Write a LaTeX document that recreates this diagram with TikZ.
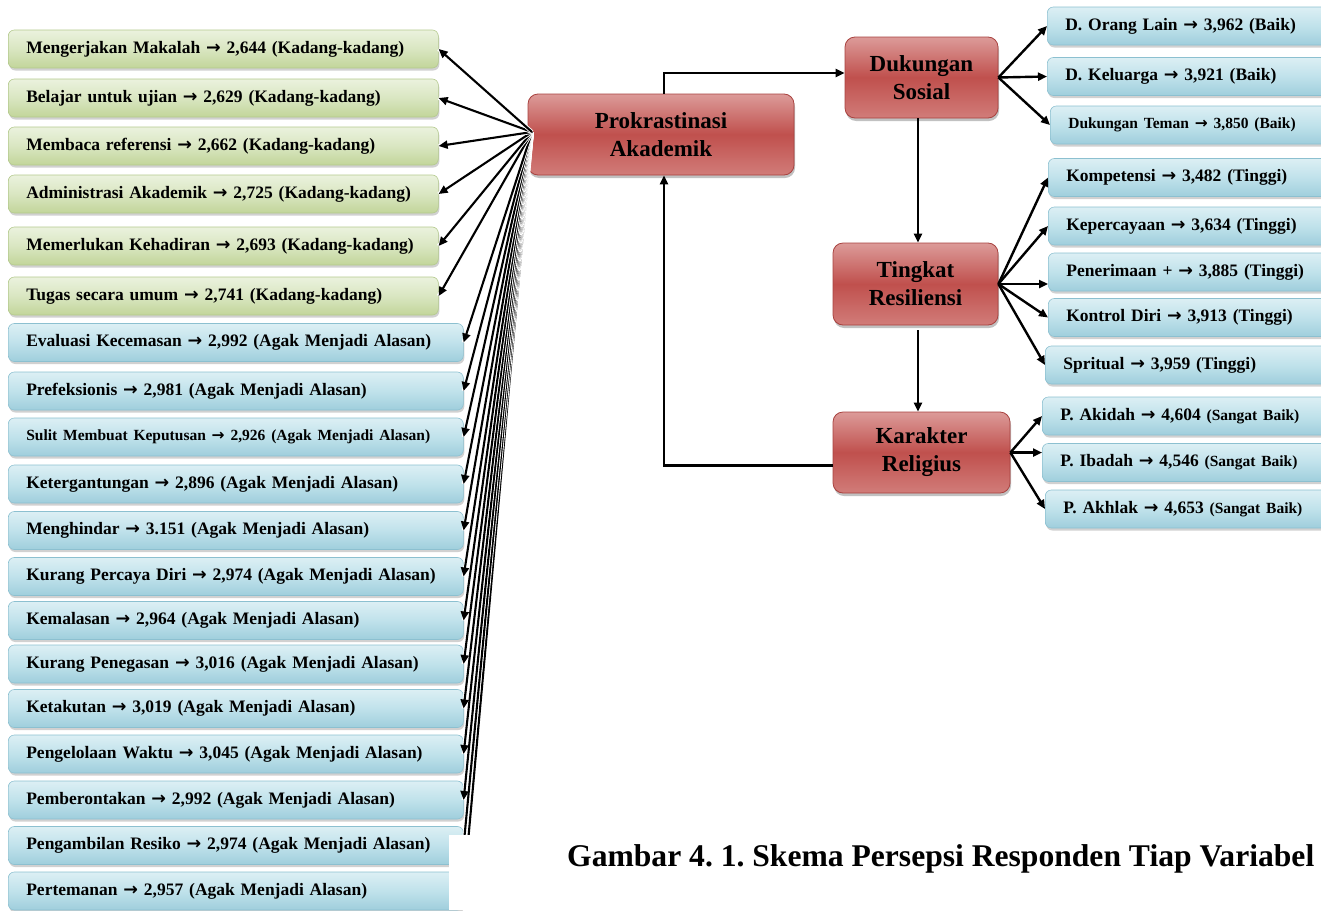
\documentclass[tikz,border=0pt]{standalone}
\usepackage{fontspec}
\setmainfont{Liberation Serif}
\newfontfamily\arrowfont{DejaVu Sans}
\frenchspacing
\usetikzlibrary{arrows.meta,shadows,calc}
\definecolor{gtop}{HTML}{EBF2DE}
\definecolor{gmid}{HTML}{D9E6C1}
\definecolor{gbot}{HTML}{C2D59A}
\definecolor{gborder}{HTML}{B3C98C}
\definecolor{btop}{HTML}{DCEFF4}
\definecolor{bmid}{HTML}{C0E2EB}
\definecolor{bbot}{HTML}{9FCEDC}
\definecolor{bborder}{HTML}{8CC0D0}
\definecolor{rtop}{HTML}{DC9B99}
\definecolor{rmid}{HTML}{C0504D}
\definecolor{rbot}{HTML}{D17C79}
\definecolor{rborder}{HTML}{A8423F}
\newcommand{\sm}{\fontsize{15.5}{18}\selectfont}
\newcommand{\ar}{{\arrowfont\bfseries →}}
\begin{document}
\begin{tikzpicture}[x=1pt,y=-1pt,
  box/.style={rounded corners=6pt, minimum height=38pt, inner xsep=18pt, inner ysep=0pt,
    anchor=west, align=left, line width=.6pt,
    font=\bfseries\fontsize{17.5}{20}\selectfont,
    drop shadow={shadow xshift=1pt, shadow yshift=-2.5pt, fill=black!60, opacity=.3}},
  gbox/.style={box, text width=394pt, draw=gborder, top color=gtop, bottom color=gbot, middle color=gmid},
  bbox/.style={box, text width=419pt, draw=bborder, top color=btop, bottom color=bbot, middle color=bmid},
  rbox/.style={box, text width=280pt, draw=bborder, top color=btop, bottom color=bbot, middle color=bmid},
  redn/.style={rounded corners=10pt, draw=rborder, line width=.8pt, top color=rtop, bottom color=rbot,
    middle color=rmid, align=center, inner sep=0pt,
    font=\bfseries\fontsize{23}{28}\selectfont,
    drop shadow={shadow xshift=1pt, shadow yshift=-3pt, fill=black!70, opacity=.35}},
  arr/.style={-{Triangle[length=9pt,width=8pt]}, line width=2.4pt},
  fanline/.style={arr, line width=2.1pt, preaction={draw=white, line width=3.9pt, -}}
]
\useasboundingbox (0,0) rectangle (1321,910);
\clip (0,0) rectangle (1321,910);

% central chain
\node[redn, minimum width=266pt, minimum height=81pt] (pk) at (661,134.5) {Prokrastinasi\\Akademik};
\node[redn, minimum width=153pt, minimum height=81pt] (ds) at (921.5,77.5) {Dukungan\\Sosial};
\node[redn, minimum width=165pt, minimum height=82pt] (tr) at (915.5,284) {Tingkat\\Resiliensi};
\node[redn, minimum width=177pt, minimum height=81pt] (kr) at (921.5,452.5) {Karakter\\Religius};

% left boxes
\node[gbox] (l1) at (8,49) {Mengerjakan Makalah \ar{} 2,644 (Kadang-kadang)};
\node[gbox] (l2) at (8,98) {Belajar untuk ujian \ar{} 2,629 (Kadang-kadang)};
\node[gbox] (l3) at (8,146) {Membaca referensi \ar{} 2,662 (Kadang-kadang)};
\node[gbox] (l4) at (8,194) {Administrasi Akademik \ar{} 2,725 (Kadang-kadang)};
\node[gbox] (l5) at (8,246) {Memerlukan Kehadiran \ar{} 2,693 (Kadang-kadang)};
\node[gbox] (l6) at (8,296) {Tugas secara umum \ar{} 2,741 (Kadang-kadang)};
\node[bbox] (l7) at (8,342.5) {Evaluasi Kecemasan \ar{} 2,992 (Agak Menjadi Alasan)};
\node[bbox] (l8) at (8,391) {Prefeksionis \ar{} 2,981 (Agak Menjadi Alasan)};
\node[bbox] (l9) at (8,437) {\sm Sulit Membuat Keputusan \ar{} 2,926 (Agak Menjadi Alasan)};
\node[bbox] (l10) at (8,484) {Ketergantungan \ar{} 2,896 (Agak Menjadi Alasan)};
\node[bbox] (l11) at (8,530.5) {Menghindar \ar{} 3.151 (Agak Menjadi Alasan)};
\node[bbox] (l12) at (8,576.5) {Kurang Percaya Diri \ar{} 2,974 (Agak Menjadi Alasan)};
\node[bbox] (l13) at (8,620.5) {Kemalasan \ar{} 2,964 (Agak Menjadi Alasan)};
\node[bbox] (l14) at (8,664) {Kurang Penegasan \ar{} 3,016 (Agak Menjadi Alasan)};
\node[bbox] (l15) at (8,708.5) {Ketakutan \ar{} 3,019 (Agak Menjadi Alasan)};
\node[bbox] (l16) at (8,754) {Pengelolaan Waktu \ar{} 3,045 (Agak Menjadi Alasan)};
\node[bbox] (l17) at (8,800) {Pemberontakan \ar{} 2,992 (Agak Menjadi Alasan)};
\node[bbox] (l18) at (8,845.5) {Pengambilan Resiko \ar{} 2,974 (Agak Menjadi Alasan)};
\node[bbox] (l19) at (8,891) {Pertemanan \ar{} 2,957 (Agak Menjadi Alasan)};

% right boxes
\node[rbox] (r1) at (1047,26) {D. Orang Lain \ar{} 3,962 (Baik)};
\node[rbox] (r2) at (1047,76.5) {D. Keluarga \ar{} 3,921 (Baik)};
\node[rbox] (r3) at (1050,125) {\sm Dukungan Teman \ar{} 3,850 (Baik)};
\node[rbox] (r4) at (1048,177.5) {Kompetensi \ar{} 3,482 (Tinggi)};
\node[rbox] (r5) at (1048,226) {Kepercayaan \ar{} 3,634 (Tinggi)};
\node[rbox] (r6) at (1048,272) {Penerimaan + \ar{} 3,885 (Tinggi)};
\node[rbox] (r7) at (1048,317.5) {Kontrol Diri \ar{} 3,913 (Tinggi)};
\node[rbox] (r8) at (1045,365) {Spritual \ar{} 3,959 (Tinggi)};
\node[rbox] (r9) at (1042,416) {P. Akidah \ar{} 4,604 {\sm(Sangat Baik)}};
\node[rbox] (r10) at (1042,462.5) {P. Ibadah \ar{} 4,546 {\sm(Sangat Baik)}};
\node[rbox] (r11) at (1045,509) {P. Akhlak \ar{} 4,653 {\sm(Sangat Baik)}};

% left fan
\coordinate (fan) at (532,132);
\foreach \i in {19,18,...,1} { \draw[fanline] (fan) -- (l\i.east); }

% chain connectors
\draw[arr] ([xshift=3pt]pk.north) |- ([yshift=4.5pt]ds.west);
\draw[arr] ([xshift=-3.5pt]ds.south) -- ([xshift=-3.5pt]ds.south |- tr.north);
\draw[arr] ([xshift=2.5pt,yshift=-5pt]tr.south) -- ([xshift=2.5pt]tr.south |- kr.north);
\draw[arr] ([yshift=-13pt]kr.west) -| ([xshift=3pt]pk.south);

% right fans
\draw[arr] (ds.east) -- (r1.west);
\draw[arr] (ds.east) -- (r2.west);
\draw[arr] (ds.east) -- (r3.west);
\draw[arr] (tr.east) -- (r4.west);
\draw[arr] (tr.east) -- (r5.west);
\draw[arr] (tr.east) -- (tr.east -| r6.west);
\draw[arr] (tr.east) -- (r7.west);
\draw[arr] (tr.east) -- (r8.west);
\draw[arr] (kr.east) -- (r9.west);
\draw[arr] (kr.east) -- (kr.east -| r10.west);
\draw[arr] (kr.east) -- (r11.west);

% white patch and caption
\fill[white] (449,835) rectangle (1321,910);
\node[anchor=base west, inner sep=0pt, font=\bfseries\fontsize{31.6}{35}\selectfont] (cap) at (567,866)
  {Gambar 4. 1. Skema Persepsi Responden Tiap Variabel};
\end{tikzpicture}
\end{document}
